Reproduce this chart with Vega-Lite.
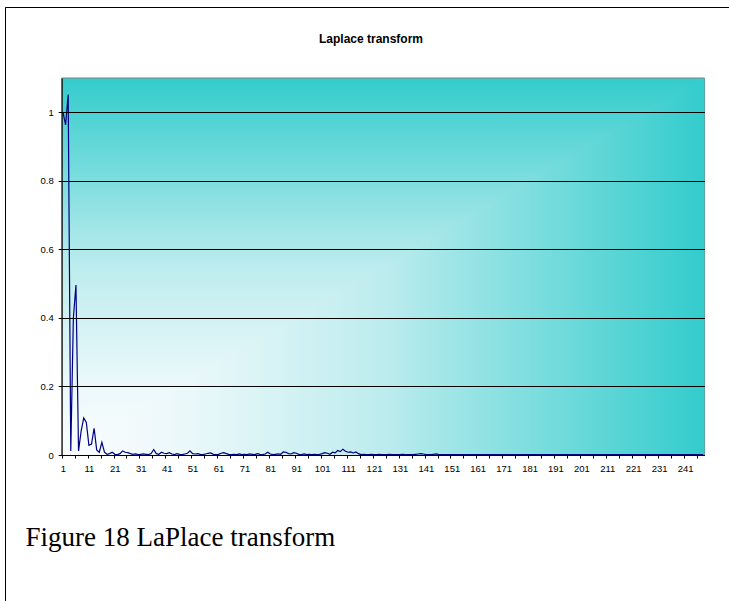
{
  "$schema": "https://vega.github.io/schema/vega-lite/v6.json",
  "width": 724,
  "height": 594,
  "padding": {"left": 5, "top": 7, "right": 0, "bottom": 0},
  "autosize": {"type": "none"},
  "title": {
    "text": "Laplace transform",
    "orient": "top",
    "frame": "group",
    "anchor": "middle",
    "offset": -39,
    "dx": 4,
    "font": "Liberation Sans",
    "fontSize": 12,
    "fontWeight": "bold",
    "color": "#000000"
  },
  "datasets": {
    "laplace": [
      {"n": 1, "v": 1.0}, {"n": 2, "v": 0.963}, {"n": 3, "v": 1.052}, {"n": 4, "v": 0.012}, {"n": 5, "v": 0.40},
      {"n": 6, "v": 0.496}, {"n": 7, "v": 0.012}, {"n": 8, "v": 0.07}, {"n": 9, "v": 0.108}, {"n": 10, "v": 0.095},
      {"n": 11, "v": 0.028}, {"n": 12, "v": 0.032}, {"n": 13, "v": 0.078}, {"n": 14, "v": 0.015}, {"n": 15, "v": 0.008},
      {"n": 16, "v": 0.037}, {"n": 17, "v": 0.008}, {"n": 18, "v": 0.002}, {"n": 19, "v": 0.004}, {"n": 20, "v": 0.008},
      {"n": 21, "v": 0.002}, {"n": 22, "v": 0.001}, {"n": 23, "v": 0.004}, {"n": 24, "v": 0.012}, {"n": 25, "v": 0.008},
      {"n": 26, "v": 0.007}, {"n": 27, "v": 0.004}, {"n": 28, "v": 0.002}, {"n": 29, "v": 0.003}, {"n": 30, "v": 0.001},
      {"n": 31, "v": 0.002}, {"n": 32, "v": 0.003}, {"n": 33, "v": 0.002}, {"n": 34, "v": 0.001}, {"n": 35, "v": 0.004},
      {"n": 36, "v": 0.016}, {"n": 37, "v": 0.004}, {"n": 38, "v": 0.002}, {"n": 39, "v": 0.008}, {"n": 40, "v": 0.005},
      {"n": 41, "v": 0.004}, {"n": 42, "v": 0.007}, {"n": 43, "v": 0.003}, {"n": 44, "v": 0.001}, {"n": 45, "v": 0.004},
      {"n": 46, "v": 0.002}, {"n": 47, "v": 0.001}, {"n": 48, "v": 0.003}, {"n": 49, "v": 0.005}, {"n": 50, "v": 0.012},
      {"n": 51, "v": 0.004}, {"n": 52, "v": 0.003}, {"n": 53, "v": 0.004}, {"n": 54, "v": 0.002}, {"n": 55, "v": 0.001},
      {"n": 56, "v": 0.003}, {"n": 57, "v": 0.005}, {"n": 58, "v": 0.006}, {"n": 59, "v": 0.002}, {"n": 60, "v": 0.001},
      {"n": 61, "v": 0.002}, {"n": 62, "v": 0.005}, {"n": 63, "v": 0.007}, {"n": 64, "v": 0.004}, {"n": 65, "v": 0.002},
      {"n": 66, "v": 0.001}, {"n": 67, "v": 0.002}, {"n": 68, "v": 0.001}, {"n": 69, "v": 0.003}, {"n": 70, "v": 0.001},
      {"n": 71, "v": 0.002}, {"n": 72, "v": 0.001}, {"n": 73, "v": 0.003}, {"n": 74, "v": 0.002}, {"n": 75, "v": 0.001},
      {"n": 76, "v": 0.004}, {"n": 77, "v": 0.002}, {"n": 78, "v": 0.001}, {"n": 79, "v": 0.003}, {"n": 80, "v": 0.008},
      {"n": 81, "v": 0.003}, {"n": 82, "v": 0.001}, {"n": 83, "v": 0.002}, {"n": 84, "v": 0.003}, {"n": 85, "v": 0.002},
      {"n": 86, "v": 0.009}, {"n": 87, "v": 0.008}, {"n": 88, "v": 0.004}, {"n": 89, "v": 0.003}, {"n": 90, "v": 0.007},
      {"n": 91, "v": 0.005}, {"n": 92, "v": 0.002}, {"n": 93, "v": 0.001}, {"n": 94, "v": 0.003}, {"n": 95, "v": 0.001},
      {"n": 96, "v": 0.002}, {"n": 97, "v": 0.001}, {"n": 98, "v": 0.002}, {"n": 99, "v": 0.001}, {"n": 100, "v": 0.002},
      {"n": 101, "v": 0.004}, {"n": 102, "v": 0.007}, {"n": 103, "v": 0.005}, {"n": 104, "v": 0.002}, {"n": 105, "v": 0.008},
      {"n": 106, "v": 0.006}, {"n": 107, "v": 0.013}, {"n": 108, "v": 0.010}, {"n": 109, "v": 0.017}, {"n": 110, "v": 0.011},
      {"n": 111, "v": 0.008}, {"n": 112, "v": 0.009}, {"n": 113, "v": 0.006}, {"n": 114, "v": 0.009}, {"n": 115, "v": 0.004},
      {"n": 116, "v": 0.001}, {"n": 117, "v": 0.002}, {"n": 118, "v": 0.001}, {"n": 119, "v": 0.001}, {"n": 120, "v": 0.002},
      {"n": 121, "v": 0.001}, {"n": 122, "v": 0.001}, {"n": 123, "v": 0.002}, {"n": 124, "v": 0.001}, {"n": 125, "v": 0.001},
      {"n": 126, "v": 0.001}, {"n": 127, "v": 0.002}, {"n": 128, "v": 0.001}, {"n": 129, "v": 0.001}, {"n": 130, "v": 0.001},
      {"n": 131, "v": 0.001}, {"n": 132, "v": 0.002}, {"n": 133, "v": 0.001}, {"n": 134, "v": 0.001}, {"n": 135, "v": 0.001},
      {"n": 136, "v": 0.001}, {"n": 137, "v": 0.002}, {"n": 138, "v": 0.003}, {"n": 139, "v": 0.004}, {"n": 140, "v": 0.003},
      {"n": 141, "v": 0.001}, {"n": 142, "v": 0.001}, {"n": 143, "v": 0.001}, {"n": 144, "v": 0.002}, {"n": 145, "v": 0.003},
      {"n": 146, "v": 0.001}, {"n": 147, "v": 0.001}, {"n": 148, "v": 0.001}, {"n": 149, "v": 0.001}, {"n": 150, "v": 0.001},
      {"n": 151, "v": 0.001}, {"n": 152, "v": 0.001}, {"n": 153, "v": 0.001}, {"n": 154, "v": 0.001}, {"n": 155, "v": 0.001},
      {"n": 156, "v": 0.001}, {"n": 157, "v": 0.001}, {"n": 158, "v": 0.001}, {"n": 159, "v": 0.001}, {"n": 160, "v": 0.001},
      {"n": 161, "v": 0.001}, {"n": 162, "v": 0.001}, {"n": 163, "v": 0.001}, {"n": 164, "v": 0.001}, {"n": 165, "v": 0.001},
      {"n": 166, "v": 0.001}, {"n": 167, "v": 0.001}, {"n": 168, "v": 0.001}, {"n": 169, "v": 0.001}, {"n": 170, "v": 0.001},
      {"n": 171, "v": 0.001}, {"n": 172, "v": 0.001}, {"n": 173, "v": 0.001}, {"n": 174, "v": 0.001}, {"n": 175, "v": 0.001},
      {"n": 176, "v": 0.001}, {"n": 177, "v": 0.001}, {"n": 178, "v": 0.001}, {"n": 179, "v": 0.001}, {"n": 180, "v": 0.001},
      {"n": 181, "v": 0.001}, {"n": 182, "v": 0.001}, {"n": 183, "v": 0.001}, {"n": 184, "v": 0.001}, {"n": 185, "v": 0.001},
      {"n": 186, "v": 0.001}, {"n": 187, "v": 0.001}, {"n": 188, "v": 0.001}, {"n": 189, "v": 0.001}, {"n": 190, "v": 0.001},
      {"n": 191, "v": 0.001}, {"n": 192, "v": 0.001}, {"n": 193, "v": 0.001}, {"n": 194, "v": 0.001}, {"n": 195, "v": 0.001},
      {"n": 196, "v": 0.001}, {"n": 197, "v": 0.001}, {"n": 198, "v": 0.001}, {"n": 199, "v": 0.001}, {"n": 200, "v": 0.001},
      {"n": 201, "v": 0.001}, {"n": 202, "v": 0.001}, {"n": 203, "v": 0.001}, {"n": 204, "v": 0.001}, {"n": 205, "v": 0.001},
      {"n": 206, "v": 0.001}, {"n": 207, "v": 0.001}, {"n": 208, "v": 0.001}, {"n": 209, "v": 0.001}, {"n": 210, "v": 0.001},
      {"n": 211, "v": 0.001}, {"n": 212, "v": 0.001}, {"n": 213, "v": 0.001}, {"n": 214, "v": 0.001}, {"n": 215, "v": 0.001},
      {"n": 216, "v": 0.001}, {"n": 217, "v": 0.001}, {"n": 218, "v": 0.001}, {"n": 219, "v": 0.001}, {"n": 220, "v": 0.001},
      {"n": 221, "v": 0.001}, {"n": 222, "v": 0.001}, {"n": 223, "v": 0.001}, {"n": 224, "v": 0.001}, {"n": 225, "v": 0.001},
      {"n": 226, "v": 0.001}, {"n": 227, "v": 0.001}, {"n": 228, "v": 0.001}, {"n": 229, "v": 0.001}, {"n": 230, "v": 0.001},
      {"n": 231, "v": 0.001}, {"n": 232, "v": 0.001}, {"n": 233, "v": 0.001}, {"n": 234, "v": 0.001}, {"n": 235, "v": 0.001},
      {"n": 236, "v": 0.001}, {"n": 237, "v": 0.001}, {"n": 238, "v": 0.001}, {"n": 239, "v": 0.001}, {"n": 240, "v": 0.001},
      {"n": 241, "v": 0.001}, {"n": 242, "v": 0.001}, {"n": 243, "v": 0.001}, {"n": 244, "v": 0.001}, {"n": 245, "v": 0.001},
      {"n": 246, "v": 0.001}, {"n": 247, "v": 0.001}, {"n": 248, "v": 0.001}
    ],
    "lowerRightShade": [
      {"n": 0.5, "lo": 0, "hi": 0},
      {"n": 248.5, "lo": 0, "hi": 1.1}
    ]
  },
  "layer": [
    {
      "description": "Plot-area background: teal at the top fading to white at the bottom",
      "data": {"values": [{}]},
      "mark": {
        "type": "rect",
        "stroke": "#808080",
        "strokeWidth": 1,
        "color": {
          "gradient": "linear",
          "x1": 0, "y1": 0, "x2": 0, "y2": 1,
          "stops": [
            {"offset": 0, "color": "#33cccc"},
            {"offset": 0.5, "color": "#bdecee"},
            {"offset": 0.8, "color": "#eaf8fa"},
            {"offset": 1, "color": "#fbfdfe"}
          ]
        }
      },
      "encoding": {
        "x": {"datum": 0.5, "type": "quantitative", "axis": null},
        "x2": {"datum": 248.5},
        "y": {"datum": 0, "type": "quantitative", "axis": null},
        "y2": {"datum": 1.1}
      }
    },
    {
      "description": "Lower-right half of the plot area: white at the left fading to teal at the right",
      "data": {"name": "lowerRightShade"},
      "mark": {
        "type": "area",
        "color": {
          "gradient": "linear",
          "x1": 0, "y1": 0, "x2": 1, "y2": 0,
          "stops": [
            {"offset": 0, "color": "#fbfdfe"},
            {"offset": 0.2, "color": "#eaf8fa"},
            {"offset": 0.5, "color": "#bdecee"},
            {"offset": 1, "color": "#33cccc"}
          ]
        }
      },
      "encoding": {
        "x": {"field": "n", "type": "quantitative", "axis": null},
        "y": {"field": "lo", "type": "quantitative", "axis": null},
        "y2": {"field": "hi"}
      }
    },
    {
      "data": {"name": "laplace"},
      "mark": {"type": "line", "color": "#000080", "strokeWidth": 1.2, "interpolate": "linear"},
      "encoding": {
        "x": {
          "field": "n",
          "type": "quantitative",
          "scale": {"domain": [0.5, 248.5], "range": [56.7, 699.5], "nice": false, "zero": false},
          "axis": {
            "orient": "bottom",
            "offset": -146,
            "zindex": 1,
            "values": [0.5, 5.5, 10.5, 15.5, 20.5, 25.5, 30.5, 35.5, 40.5, 45.5, 50.5, 55.5, 60.5, 65.5, 70.5, 75.5, 80.5, 85.5, 90.5, 95.5, 100.5, 105.5, 110.5, 115.5, 120.5, 125.5, 130.5, 135.5, 140.5, 145.5, 150.5, 155.5, 160.5, 165.5, 170.5, 175.5, 180.5, 185.5, 190.5, 195.5, 200.5, 205.5, 210.5, 215.5, 220.5, 225.5, 230.5, 235.5, 240.5, 245.5],
            "labelExpr": "(datum.value - 0.5) % 10 == 0 ? format(datum.value + 0.5, 'd') : ''",
            "labelOffset": 1.3,
            "labelFlush": false,
            "labelOverlap": false,
            "labelBound": false,
            "labelFont": "Liberation Sans",
            "labelFontSize": 9.5,
            "labelColor": "#000000",
            "labelPadding": 5,
            "tickSize": 3,
            "tickColor": "#000000",
            "tickWidth": 1,
            "domainColor": "#000000",
            "domainWidth": 1,
            "grid": false,
            "title": "Figure 18 LaPlace transform",
            "titleFont": "Liberation Serif",
            "titleFontSize": 27,
            "titleFontWeight": "normal",
            "titleColor": "#000000",
            "titleAlign": "left",
            "titleAnchor": "start",
            "titleBaseline": "alphabetic",
            "titleX": 20,
            "titleY": 90
          }
        },
        "y": {
          "field": "v",
          "type": "quantitative",
          "scale": {"domain": [0, 1.1], "range": [448, 71], "nice": false, "zero": true},
          "axis": {
            "orient": "left",
            "offset": -56.7,
            "zindex": 1,
            "values": [0, 0.2, 0.4, 0.6, 0.8, 1],
            "format": "~g",
            "labelFont": "Liberation Sans",
            "labelFontSize": 9.5,
            "labelColor": "#000000",
            "labelPadding": 5,
            "tickSize": 3.5,
            "tickColor": "#000000",
            "domainColor": "#000000",
            "grid": true,
            "gridColor": "#000000",
            "gridOpacity": 1,
            "gridWidth": 1,
            "title": null
          }
        }
      }
    }
  ],
  "resolve": {"axis": {"x": "independent", "y": "independent"}},
  "config": {
    "view": {
      "stroke": "#000000",
      "strokeWidth": 1,
      "strokeDash": [724, 1318, 594]
    },
    "background": "#ffffff"
  }
}
